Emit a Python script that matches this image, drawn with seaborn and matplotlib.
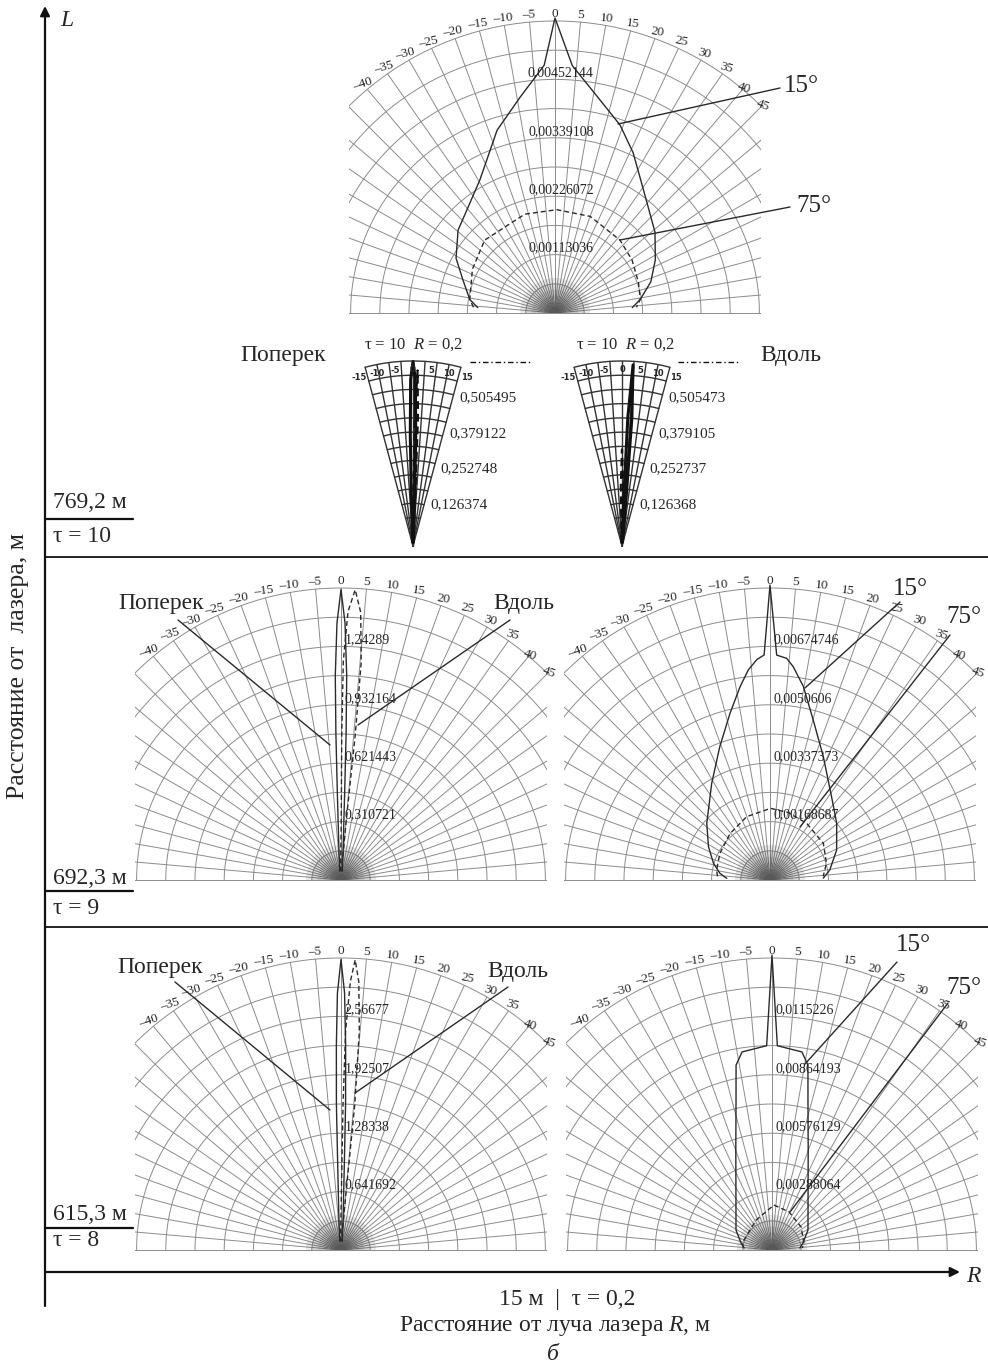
import numpy as np
import matplotlib
matplotlib.use("Agg")
import matplotlib.pyplot as plt
import seaborn as sns
from matplotlib.patches import Wedge

sns.set_theme(style="white")
plt.rcParams["font.family"] = ["Liberation Serif", "DejaVu Serif"]
plt.rcParams["mathtext.fontset"] = "custom"
plt.rcParams["mathtext.rm"] = "Liberation Serif"
plt.rcParams["mathtext.it"] = "Liberation Serif:italic"

W, H = 988, 1369

# ---------------- data ----------------
angle_ticks = [-40, -35, -30, -25, -20, -15, -10, -5, 0, 5, 10, 15, 20, 25, 30, 35, 40, 45]
fan_ticks = [-15, -10, -5, 0, 5, 10, 15]

# row tau=10, big diagram (15 deg solid, 75 deg dashed)
top_step = 0.00113036
top_labels = ["0,00113036", "0,00226072", "0,00339108", "0,00452144"]
top15_theta = [-86, -81, -70, -61, -49.4, -42.6, -29.4, -17.6, -9.2, -2.5, 0, 4, 10.4, 19.1, 26, 36.3, 51, 62, 72, 81, 86]
top15_r = [0.00150, 0.00167, 0.00190, 0.00219, 0.00247, 0.00258, 0.00296, 0.00371, 0.00423, 0.00480, 0.00571,
           0.00480, 0.00431, 0.00385, 0.00345, 0.00291, 0.00249, 0.00220, 0.00195, 0.00167, 0.00150]
top75_theta = [-86, -81, -62, -44, -17, 1, 20, 41.7, 55.5, 70, 81, 86]
top75_r = [0.00158, 0.00167, 0.00181, 0.00196, 0.00200, 0.00200, 0.00199, 0.00189, 0.00181, 0.00172, 0.00167, 0.00158]

# row tau=10, small fans (R = 0,2)
fanP_step = 0.126374
fanP_labels = ["0,126374", "0,252748", "0,379122", "0,505495"]
fanP_sol_theta = [-4, -1.8, -1.4, -0.8, 0, 0.8, 1.4, 1.8, 4]
fanP_sol_r = [0.013, 0.19, 0.38, 0.57, 0.63, 0.57, 0.38, 0.19, 0.013]
fanP_dash_theta = [-2, 0.5, 0.8, 1.5, 2.2, 2.5, 5]
fanP_dash_r = [0.013, 0.19, 0.44, 0.60, 0.44, 0.19, 0.013]
fanV_step = 0.126368
fanV_labels = ["0,126368", "0,252737", "0,379105", "0,505473"]
fanV_sol_theta = [-3, 2.2, 2.6, 3.5, 4.4, 4.8, 8]
fanV_sol_r = [0.013, 0.19, 0.44, 0.62, 0.44, 0.19, 0.013]
fanV_dash_theta = [-4, -1.2, 0, 1.2, 4]
fanV_dash_r = [0.013, 0.20, 0.33, 0.20, 0.013]

# row tau=9, left (Поперек solid, Вдоль dashed)
ml_step = 0.310721
ml_labels = ["0,310721", "0,621443", "0,932164", "1,24289"]
ml_pop_theta = [-8, -4, -2.4, -2.0, -1.6, -0.9, 0, 0.9, 1.6, 2.0, 2.4, 4, 8]
ml_pop_r = [0.047, 0.155, 0.466, 0.777, 1.088, 1.367, 1.546, 1.367, 1.088, 0.777, 0.466, 0.155, 0.047]
ml_vd_theta = [-3, 0.2, 0.3, 0.6, 1.5, 2.8, 4.2, 5.3, 5.6, 5.0, 3.0]
ml_vd_r = [0.047, 0.311, 0.777, 1.165, 1.429, 1.546, 1.429, 1.165, 0.777, 0.311, 0.047]

# row tau=9, right (15 deg solid, 75 deg dashed)
mr_step = 0.00168687
mr_labels = ["0,00168687", "0,00337373", "0,0050606", "0,00674746"]
mr15_theta = [-87.8, -82.4, -73.6, -61.6, -48.2, -31.1, -20.6, -13.5, -8.8, -5.9, -3.4, -1.5, 0,
              1.7, 4.3, 6.2, 9.8, 15.1, 23.4, 36.5, 49.6, 65.8, 80.5, 88]
mr15_r = [0.00125, 0.00146, 0.00170, 0.00202, 0.00245, 0.00326, 0.00412, 0.00495, 0.00565, 0.00610, 0.00638,
          0.00650, 0.00852, 0.00650, 0.00642, 0.00620, 0.00567, 0.00479, 0.00388, 0.00299, 0.00253, 0.00211,
          0.00175, 0.00154]
mr75_theta = [-86, -79.4, -61.9, -40.6, -20.2, 0.5, 15, 32.9, 55.5, 73.6, 86]
mr75_r = [0.00152, 0.00157, 0.00164, 0.00177, 0.00195, 0.00207, 0.00202, 0.00195, 0.00187, 0.00170, 0.00154]

# row tau=8, left
bl_step = 0.641692
bl_labels = ["0,641692", "1,28338", "1,92507", "2,56677"]
bl_pop_theta = [-8, -4, -2.2, -1.8, -1.3, -0.8, 0, 0.8, 1.3, 1.8, 2.2, 4, 8]
bl_pop_r = [0.096, 0.321, 0.963, 1.604, 2.246, 2.823, 3.192, 2.823, 2.246, 1.604, 0.963, 0.321, 0.096]
bl_vd_theta = [-3, 0.4, 0.8, 1.2, 2.0, 2.8, 3.8, 4.8, 5.4, 5.0, 3.0]
bl_vd_r = [0.096, 0.642, 1.604, 2.406, 2.952, 3.192, 2.952, 2.406, 1.604, 0.642, 0.096]

# row tau=8, right
br_step = 0.00288064
br_labels = ["0,00288064", "0,00576129", "0,00864193", "0,0115226"]
br15_theta = [-86, -77, -61, -35.8, -19.8, -13.5, -11, -8.6, -1.5, 0, 1.5, 8.6, 11, 13.5, 19.8, 35.8, 61, 77, 86]
br15_r = [0.00138, 0.00157, 0.00203, 0.00304, 0.00527, 0.00760, 0.00929, 0.00988, 0.01008, 0.01455, 0.01008,
          0.00988, 0.00929, 0.00760, 0.00527, 0.00304, 0.00203, 0.00157, 0.00138]
br75_theta = [-86, -77, -28, 2.5, 24, 51.6, 77.7, 86]
br75_r = [0.00140, 0.00151, 0.00167, 0.00222, 0.00206, 0.00183, 0.00161, 0.00150]

# ---------------- drawing helpers ----------------
fig = plt.figure(figsize=(W / 100, H / 100), dpi=100)
GRID = "#8c8c8c"
INK = "#2a2a2a"
S45 = np.sin(np.radians(45))


def xy(theta, r):
    t = np.radians(np.asarray(theta, float))
    r = np.asarray(r, float)
    return r * np.sin(t), r * np.cos(t)


def curve(ax, theta, r, dashed=False, lw=1.0, color=INK):
    x, y = xy(theta, r)
    sns.lineplot(x=x, y=y, sort=False, estimator=None, ax=ax, color=color, lw=lw,
                 linestyle=(0, (3.5, 2.2)) if dashed else "-")
    for ln in ax.get_lines()[-1:]:
        ln.set_clip_on(False)


def polar_panel(cx, cy, Rpx, step, labels, center_labels=False):
    rmax = 5 * step
    lo, hi = 0.012, 1.02
    w = S45 * Rpx
    ax = fig.add_axes([(cx - w) / W, 1 - (cy + lo * Rpx) / H, 2 * w / W, (lo + hi) * Rpx / H])
    ax.set_xlim(-S45 * rmax, S45 * rmax)
    ax.set_ylim(-lo * rmax, hi * rmax)
    ax.axis("off")
    th = np.linspace(-90, 90, 361)
    for a in range(-90, 91, 5):
        x, y = xy([a, a], [0, rmax])
        ax.plot(x, y, color=GRID, lw=0.7, zorder=1)
    for k in range(1, 11):
        x, y = xy(th, np.full_like(th, rmax * k / 10))
        ax.plot(x, y, color=GRID, lw=0.7, zorder=1)
    for k in range(1, 7):
        ax.add_patch(Wedge((0, 0), rmax * 0.12 * k / 6, 0, 180, color="k", alpha=0.09, lw=0, zorder=1))
    for a in angle_ticks:
        x, y = xy(a, rmax * (1.025 if a < 40 else 1.005))
        ax.text(x, y, str(a).replace("-", "\u2013"), ha="center", va="center", fontsize=9.5,
                rotation=-a * 0.45, clip_on=False, zorder=3)
    for k, lab in enumerate(labels, start=1):
        yv = (k * 0.2 + 0.022) * rmax
        if center_labels:
            ax.text(0.02 * rmax, yv, lab, ha="center", va="center", fontsize=10, zorder=3)
        else:
            ax.text(0.012 * rmax, yv, lab, ha="left", va="center", fontsize=10, zorder=3)
    return ax


def fan_panel(cx, cy, Rpx, step, labels):
    rmax = 5 * step
    s15 = np.sin(np.radians(15))
    w = s15 * Rpx
    ax = fig.add_axes([(cx - w) / W, 1 - (cy + 0.01 * Rpx) / H, 2 * w / W, 1.03 * Rpx / H])
    ax.set_xlim(-s15 * rmax, s15 * rmax)
    ax.set_ylim(-0.01 * rmax, 1.02 * rmax)
    ax.axis("off")
    th = np.linspace(-15, 15, 61)
    for a in np.linspace(-15, 15, 9):
        x, y = xy([a, a], [0, rmax])
        ax.plot(x, y, color="#333333", lw=1.0, zorder=1, clip_on=False)
    for k in range(1, 14):
        x, y = xy(th, np.full_like(th, rmax * k / 13))
        ax.plot(x, y, color="#333333", lw=1.0, zorder=1, clip_on=False)
    for a in fan_ticks:
        x, y = xy(a * 1.18, rmax * 0.955)
        ax.text(x, y, str(a), ha="center", va="center", fontsize=6,
                family="DejaVu Sans", weight="bold", clip_on=False, zorder=3)
    for k, lab in enumerate(labels, start=1):
        x, y = xy(15, (k * 0.2 + 0.03) * rmax)
        ax.text(x + 0.035 * rmax, y, lab, ha="left", va="center", fontsize=11, clip_on=False)
    return ax


# ---------------- panels ----------------
R = 292
ax_top = polar_panel(555, 313, R, top_step, top_labels, center_labels=True)
curve(ax_top, top15_theta, top15_r)
curve(ax_top, top75_theta, top75_r, dashed=True)

ax_fp = fan_panel(413, 546, 185, fanP_step, fanP_labels)
curve(ax_fp, fanP_sol_theta, fanP_sol_r, lw=2.2, color="#111111")
curve(ax_fp, fanP_dash_theta, fanP_dash_r, dashed=True, lw=1.6, color="#111111")
ax_fv = fan_panel(622, 546, 185, fanV_step, fanV_labels)
curve(ax_fv, fanV_sol_theta, fanV_sol_r, lw=2.2, color="#111111")
curve(ax_fv, fanV_dash_theta, fanV_dash_r, dashed=True, lw=1.6, color="#111111")

ax_ml = polar_panel(341, 880, R, ml_step, ml_labels)
curve(ax_ml, ml_pop_theta, ml_pop_r)
curve(ax_ml, ml_vd_theta, ml_vd_r, dashed=True)

ax_mr = polar_panel(770, 880, R, mr_step, mr_labels)
curve(ax_mr, mr15_theta, mr15_r)
curve(ax_mr, mr75_theta, mr75_r, dashed=True)

ax_bl = polar_panel(341, 1250, R, bl_step, bl_labels)
curve(ax_bl, bl_pop_theta, bl_pop_r)
curve(ax_bl, bl_vd_theta, bl_vd_r, dashed=True)

ax_br = polar_panel(772, 1250, R, br_step, br_labels)
curve(ax_br, br15_theta, br15_r)
curve(ax_br, br75_theta, br75_r, dashed=True)

# ---------------- overlay: frame, annotations, text ----------------
ov = fig.add_axes([0, 0, 1, 1], zorder=10)
ov.set_xlim(0, W)
ov.set_ylim(H, 0)
ov.axis("off")
ov.patch.set_alpha(0)

K = "#111111"
ov.annotate("", xy=(45, 6), xytext=(45, 1306),
            arrowprops=dict(arrowstyle="-|>", lw=1.6, color=K, mutation_scale=14, shrinkA=0, shrinkB=0))
ov.annotate("", xy=(960, 1272), xytext=(45, 1272),
            arrowprops=dict(arrowstyle="-|>", lw=1.6, color=K, mutation_scale=14, shrinkA=0, shrinkB=0))
for yy in (557, 927):
    ov.plot([45, 988], [yy, yy], color=K, lw=1.3)
for yy in (519, 891, 1228):
    ov.plot([45, 133], [yy, yy], color=K, lw=1.6)

BIG = 17
ov.text(60, 20, "L", fontsize=BIG, style="italic", ha="left", va="center")
ov.text(966, 1277, "R", fontsize=BIG, style="italic", ha="left", va="center")
ov.text(53, 502, "769,2 м", fontsize=BIG, ha="left", va="center")
ov.text(53, 536, "τ = 10", fontsize=BIG, ha="left", va="center")
ov.text(53, 878, "692,3 м", fontsize=BIG, ha="left", va="center")
ov.text(53, 909, "τ = 9", fontsize=BIG, ha="left", va="center")
ov.text(53, 1214, "615,3 м", fontsize=BIG, ha="left", va="center")
ov.text(53, 1241, "τ = 8", fontsize=BIG, ha="left", va="center")
ov.text(18, 666, "Расстояние от  лазера, м", fontsize=18.5, rotation=90, ha="center", va="center")
ov.text(567, 1300, "15 м  |  τ = 0,2", fontsize=BIG, ha="center", va="center")
ov.text(555, 1326, "Расстояние от луча лазера $R$, м", fontsize=BIG, ha="center", va="center")
ov.text(553, 1355, "б", fontsize=BIG, style="italic", ha="center", va="center")

# row tau=10
ov.text(240, 356, "Поперек", fontsize=BIG, ha="left", va="center")
ov.text(760, 356, "Вдоль", fontsize=BIG, ha="left", va="center")
ov.text(413, 345, "τ = 10  $R$ = 0,2", fontsize=12, ha="center", va="center")
ov.text(625, 345, "τ = 10  $R$ = 0,2", fontsize=12, ha="center", va="center")
ov.plot([470, 532], [362, 362], color=K, lw=1.0, linestyle=(0, (4, 2, 1, 2)))
ov.plot([678, 740], [362, 362], color=K, lw=1.0, linestyle=(0, (4, 2, 1, 2)))
ov.plot([618, 780], [124, 88], color=INK, lw=1.0)
ov.text(784, 86, "15°", fontsize=18, ha="left", va="center")
ov.plot([620, 790], [240, 207], color=INK, lw=1.0)
ov.text(796, 206, "75°", fontsize=18, ha="left", va="center")

# row tau=9
ov.text(118, 604, "Поперек", fontsize=BIG, ha="left", va="center")
ov.text(493, 603, "Вдоль", fontsize=BIG, ha="left", va="center")
ov.plot([178, 330], [620, 745], color=INK, lw=1.0)
ov.plot([510, 358], [620, 725], color=INK, lw=1.0)
ov.text(893, 589, "15°", fontsize=18, ha="left", va="center")
ov.plot([900, 805], [602, 688], color=INK, lw=1.0)
ov.text(946, 617, "75°", fontsize=18, ha="left", va="center")
ov.plot([950, 800], [635, 827], color=INK, lw=1.0)

# row tau=8
ov.text(117, 967, "Поперек", fontsize=BIG, ha="left", va="center")
ov.text(487, 972, "Вдоль", fontsize=BIG, ha="left", va="center")
ov.plot([175, 330], [982, 1110], color=INK, lw=1.0)
ov.plot([508, 355], [987, 1093], color=INK, lw=1.0)
ov.text(896, 945, "15°", fontsize=18, ha="left", va="center")
ov.plot([897, 805], [962, 1064], color=INK, lw=1.0)
ov.text(946, 988, "75°", fontsize=18, ha="left", va="center")
ov.plot([948, 790], [1003, 1212], color=INK, lw=1.0)

fig.savefig("out.png", dpi=100)
